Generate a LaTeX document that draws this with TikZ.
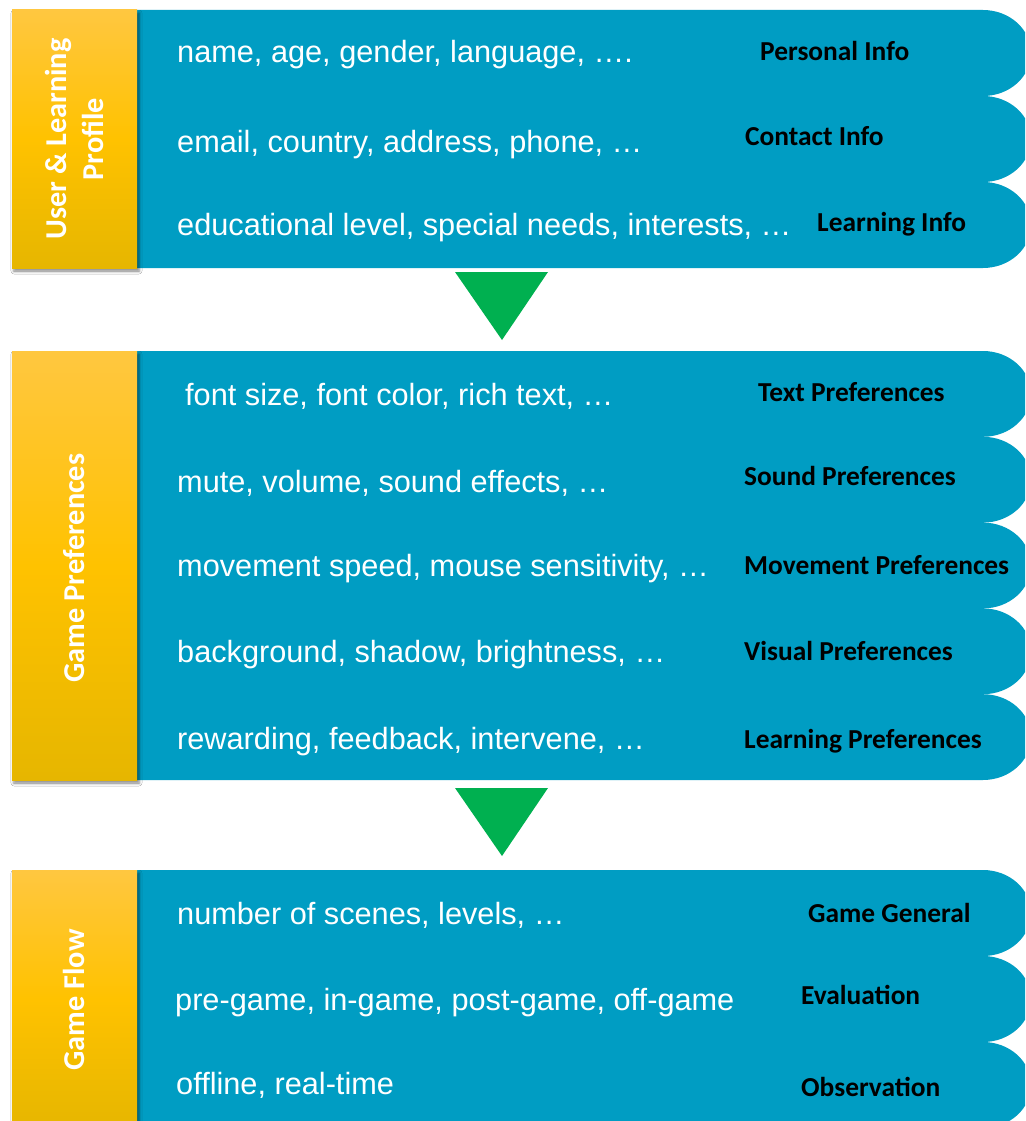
\documentclass[tikz,border=0pt]{standalone}
\usepackage{fontspec}
\setmainfont{Liberation Sans}
\newfontfamily\labfont{Carlito}
\usetikzlibrary{shadows.blur}
\definecolor{rowblue}{RGB}{0,157,195}
\definecolor{ygold}{RGB}{255,194,0}
\definecolor{ytop}{RGB}{255,199,64}
\definecolor{ybot}{RGB}{230,182,0}
\definecolor{arrgreen}{RGB}{0,176,80}
\tikzset{
 rowshape/.style={fill=rowblue},
 desc/.style={anchor=base west, inner sep=0pt, text=white, font=\fontsize{30.7}{36}\selectfont},
 lab/.style={anchor=base west, inner sep=0pt, text=black, font=\labfont\bfseries\fontsize{27.4}{32}\selectfont},
 bartext/.style={rotate=90, text=white, align=center, inner sep=0pt, font=\labfont\bfseries\fontsize{30.3}{37}\selectfont},
 bar/.style={top color=ytop, bottom color=ybot, middle color=ygold,
   blur shadow={shadow xshift=2pt, shadow yshift=-3pt, shadow blur radius=3pt, shadow opacity=50}},
 arrowtri/.style={fill=arrgreen}
}
\begin{document}
\begin{tikzpicture}[x=1pt,y=-1pt]
\clip (0,0) rectangle (1025,1121);
\fill[white] (0,0) rectangle (1025,1121);
% section bodies (avoid seams)
\fill[rowshape] (135,10) rectangle (984,268);
\fill[rowshape] (135,351) rectangle (984,780);
\fill[rowshape] (135,870) rectangle (984,1128);
% section 1 rows
\foreach \t in {10,96,182}{
  \fill[rowshape] (135,\t) -- (983,\t) arc[start angle=90,end angle=-90,x radius=48pt,y radius=43pt] -- (135,{\t+86}) -- cycle;
}
% section 2 rows
\foreach \t in {351,436.8,522.6,608.4,694.2}{
  \fill[rowshape] (135,\t) -- (983,\t) arc[start angle=90,end angle=-90,x radius=48pt,y radius=42.9pt] -- (135,{\t+85.8}) -- cycle;
}
% section 3 rows
\foreach \t in {870,956,1042}{
  \fill[rowshape] (135,\t) -- (983,\t) arc[start angle=90,end angle=-90,x radius=48pt,y radius=43pt] -- (135,{\t+86}) -- cycle;
}
% yellow bars
\path[bar] (12,10) rectangle (137,268);
\path[bar] (12,351) rectangle (137,780);
\path[bar] (12,870) rectangle (137,1128);
\node[bartext] (b1) at (74,139) {User \& Learning\\Profile};
\node[bartext] (b2) at (74,568) {Game Preferences};
\node[bartext] (b3) at (74,1000) {Game Flow};
% arrows
\fill[arrowtri] (455,272) -- (548,272) -- (502,340) -- cycle;
\fill[arrowtri] (455,788) -- (548,788) -- (502,856) -- cycle;
% section 1 texts
\node[desc] (d11) at (177,63) {name, age, gender, language, ….};
\node[desc] (d12) at (177,152) {email, country, address, phone, …};
\node[desc] (d13) at (177,235) {educational level, special needs, interests, …};
\node[lab] (l11) at (760,61) {Personal Info};
\node[lab] (l12) at (745,146) {Contact Info};
\node[lab] (l13) at (817,231) {Learning Info};
% section 2 texts
\node[desc] (d21) at (185,405) {font size, font color, rich text, …};
\node[desc] (d22) at (177,492) {mute, volume, sound effects, …};
\node[desc] (d23) at (177,576) {movement speed, mouse sensitivity, …};
\node[desc] (d24) at (177,662) {background, shadow, brightness, …};
\node[desc] (d25) at (177,749) {rewarding, feedback, intervene, …};
\node[lab] (l21) at (758,401) {Text Preferences};
\node[lab] (l22) at (744,485) {Sound Preferences};
\node[lab] (l23) at (744,574) {Movement Preferences};
\node[lab] (l24) at (744,660) {Visual Preferences};
\node[lab] (l25) at (744,748) {Learning Preferences};
% section 3 texts
\node[desc] (d31) at (177,924) {number of scenes, levels, …};
\node[desc] (d32) at (175,1010) {pre-game, in-game, post-game, off-game};
\node[desc] (d33) at (176,1094) {offline, real-time};
\node[lab] (l31) at (808,922) {Game General};
\node[lab] (l32) at (801,1004) {Evaluation};
\node[lab] (l33) at (801,1096) {Observation};
\end{tikzpicture}
\end{document}
